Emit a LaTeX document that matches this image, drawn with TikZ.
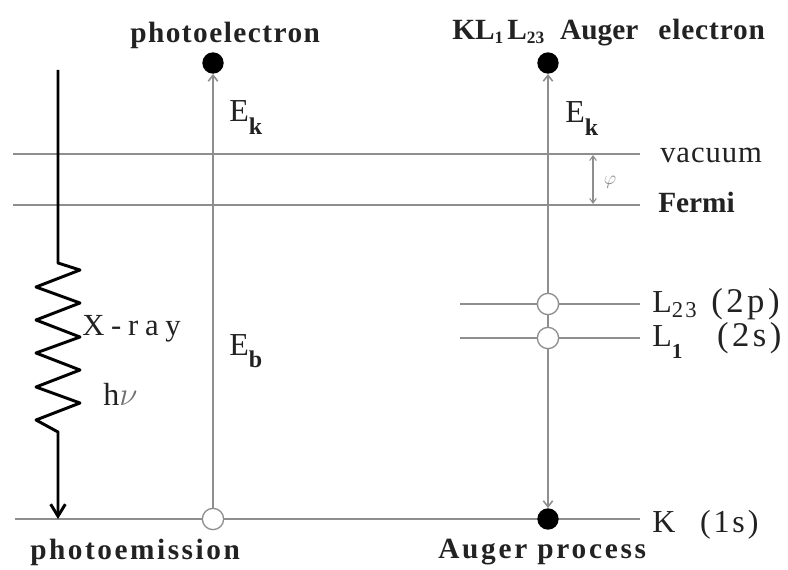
\documentclass[tikz,border=0pt]{standalone}
\usepackage{fontspec}
\usetikzlibrary{arrows.meta}
\newfontfamily\ser{Liberation Serif}
\definecolor{lev}{HTML}{8E8E8E}
\definecolor{ink}{HTML}{222222}
\newcommand{\fs}[1]{\fontsize{#1}{#1}\selectfont}
\newcommand{\lsub}[3]{\raisebox{#1}{\fs{#2}#3}}
\newcommand{\trk}[1]{\addfontfeature{LetterSpace=#1}}
\begin{document}
\begin{tikzpicture}[x=0.75pt,y=-0.75pt,
  level/.style={draw=lev,line width=1.4pt},
  trans/.style={draw=lev,line width=1.2pt},
  tipg/.style={-{Straight Barb[length=4.5pt,width=7pt]}},
  hole/.style={circle,draw=lev,line width=1pt,fill=white,minimum size=16pt,inner sep=0pt},
  elec/.style={circle,fill=black,minimum size=16pt,inner sep=0pt},
  lab/.style={inner sep=0pt,anchor=base west,text=ink},
  xray/.style={draw=black,line width=2.2pt,line join=round,-{Straight Barb[length=9pt,width=11pt]}}]
\path[use as bounding box,fill=white] (0,0) rectangle (788,570);
% level lines
\coordinate (vacL) at (13,154); \coordinate (vacR) at (640,154);
\coordinate (ferL) at (13,205); \coordinate (ferR) at (640,205);
\coordinate (l23L) at (460,304); \coordinate (l23R) at (640,304);
\coordinate (l1L) at (460,338); \coordinate (l1R) at (640,338);
\coordinate (kL) at (15,519); \coordinate (kR) at (640,519);
\draw[level] (vacL) -- (vacR);
\draw[level] (ferL) -- (ferR);
\draw[level] (l23L) -- (l23R);
\draw[level] (l1L) -- (l1R);
\draw[level] (kL) -- (kR);
% electrons and holes
\node[elec] (pe) at (213,63) {};
\node[hole] (ph) at (213,519) {};
\node[elec] (ae) at (548,63) {};
\node[hole] (a23) at (548,304) {};
\node[hole] (a1) at (548,338) {};
\node[elec] (ak) at (548,519) {};
% transitions
\draw[trans,tipg] (ph) -- (pe);
\draw[trans,tipg] (a23) -- (ae);
\draw[trans] (a23) -- (a1);
\draw[trans,tipg] (a1) -- (ak);
% work function
\coordinate (phT) at (593,155); \coordinate (phB) at (593,204);
\draw[draw=lev,line width=0.8pt,{Straight Barb[length=3.5pt,width=5pt]}-{Straight Barb[length=3.5pt,width=5pt]}] (phT) -- (phB);
\node[text=lev,inner sep=0pt] (tphi) at (610,182) {\fs{14}$\varphi$};
% X-ray
\coordinate (xs) at (58,70); \coordinate (xz1) at (58,263); \coordinate (xz2) at (58,432); \coordinate (xe) at (58,519);
\draw[xray] (xs) -- (xz1) -- (80,270) -- (36,287) -- (80,303) -- (36,320) -- (80,337) -- (36,353) -- (80,370) -- (36,387) -- (80,403) -- (36,420) -- (xz2) -- (xe);
% labels
\node[lab,font=\ser\bfseries\fs{22}\trk{5}] (tpe) at (130,43) {photoelectron};
\node[lab,font=\ser\bfseries\fs{22}] (tae) at (452,40) {KL\lsub{-3pt}{13}{1}\hspace{3pt}L\lsub{-3pt}{13}{23}\hspace{12pt}Auger\hspace{15pt}{\trk{3}electron}};
\node[lab,font=\ser\fs{24}] (ek1) at (229,122) {E\lsub{-9.75pt}{18}{\bfseries k}};
\node[lab,font=\ser\fs{24}] (ek2) at (565,123) {E\lsub{-9.75pt}{18}{\bfseries k}};
\node[lab,font=\ser\fs{24}] (eb) at (229,355) {E\lsub{-9pt}{18}{\bfseries b}};
\node[lab,font=\ser\fs{23}\trk{3}] (tvac) at (660,163) {vacuum};
\node[lab,font=\ser\bfseries\fs{22}] (tfer) at (658,213) {Fermi};
\node[lab,font=\ser\fs{24}] (tl23) at (652,312) {L\lsub{-4pt}{17}{\trk{10}23}\hspace{11pt}{\fs{26}\trk{10}(2p)}};
\node[lab,font=\ser\fs{24}] (tl1) at (652,346) {L\lsub{-9pt}{16}{\bfseries 1}\hspace{26pt}{\fs{26}\trk{10}(2s)}};
\node[lab,font=\ser\fs{24}] (tk) at (652,532) {K\hspace{18.5pt}{\trk{9}(1s)}};
\node[lab,font=\ser\fs{23}\trk{22}] (tx) at (82,335) {X-ray};
\node[lab,font=\ser\fs{24}] (th) at (103,405) {h{\color{lev!80!black}$\nu$}};
\node[lab,font=\ser\bfseries\fs{22}\trk{8.6}] (tpem) at (30,559) {photoemission};
\node[lab,font=\ser\bfseries\fs{22}\trk{9.3}] (tap) at (438,558) {Auger process};
\end{tikzpicture}
\end{document}
